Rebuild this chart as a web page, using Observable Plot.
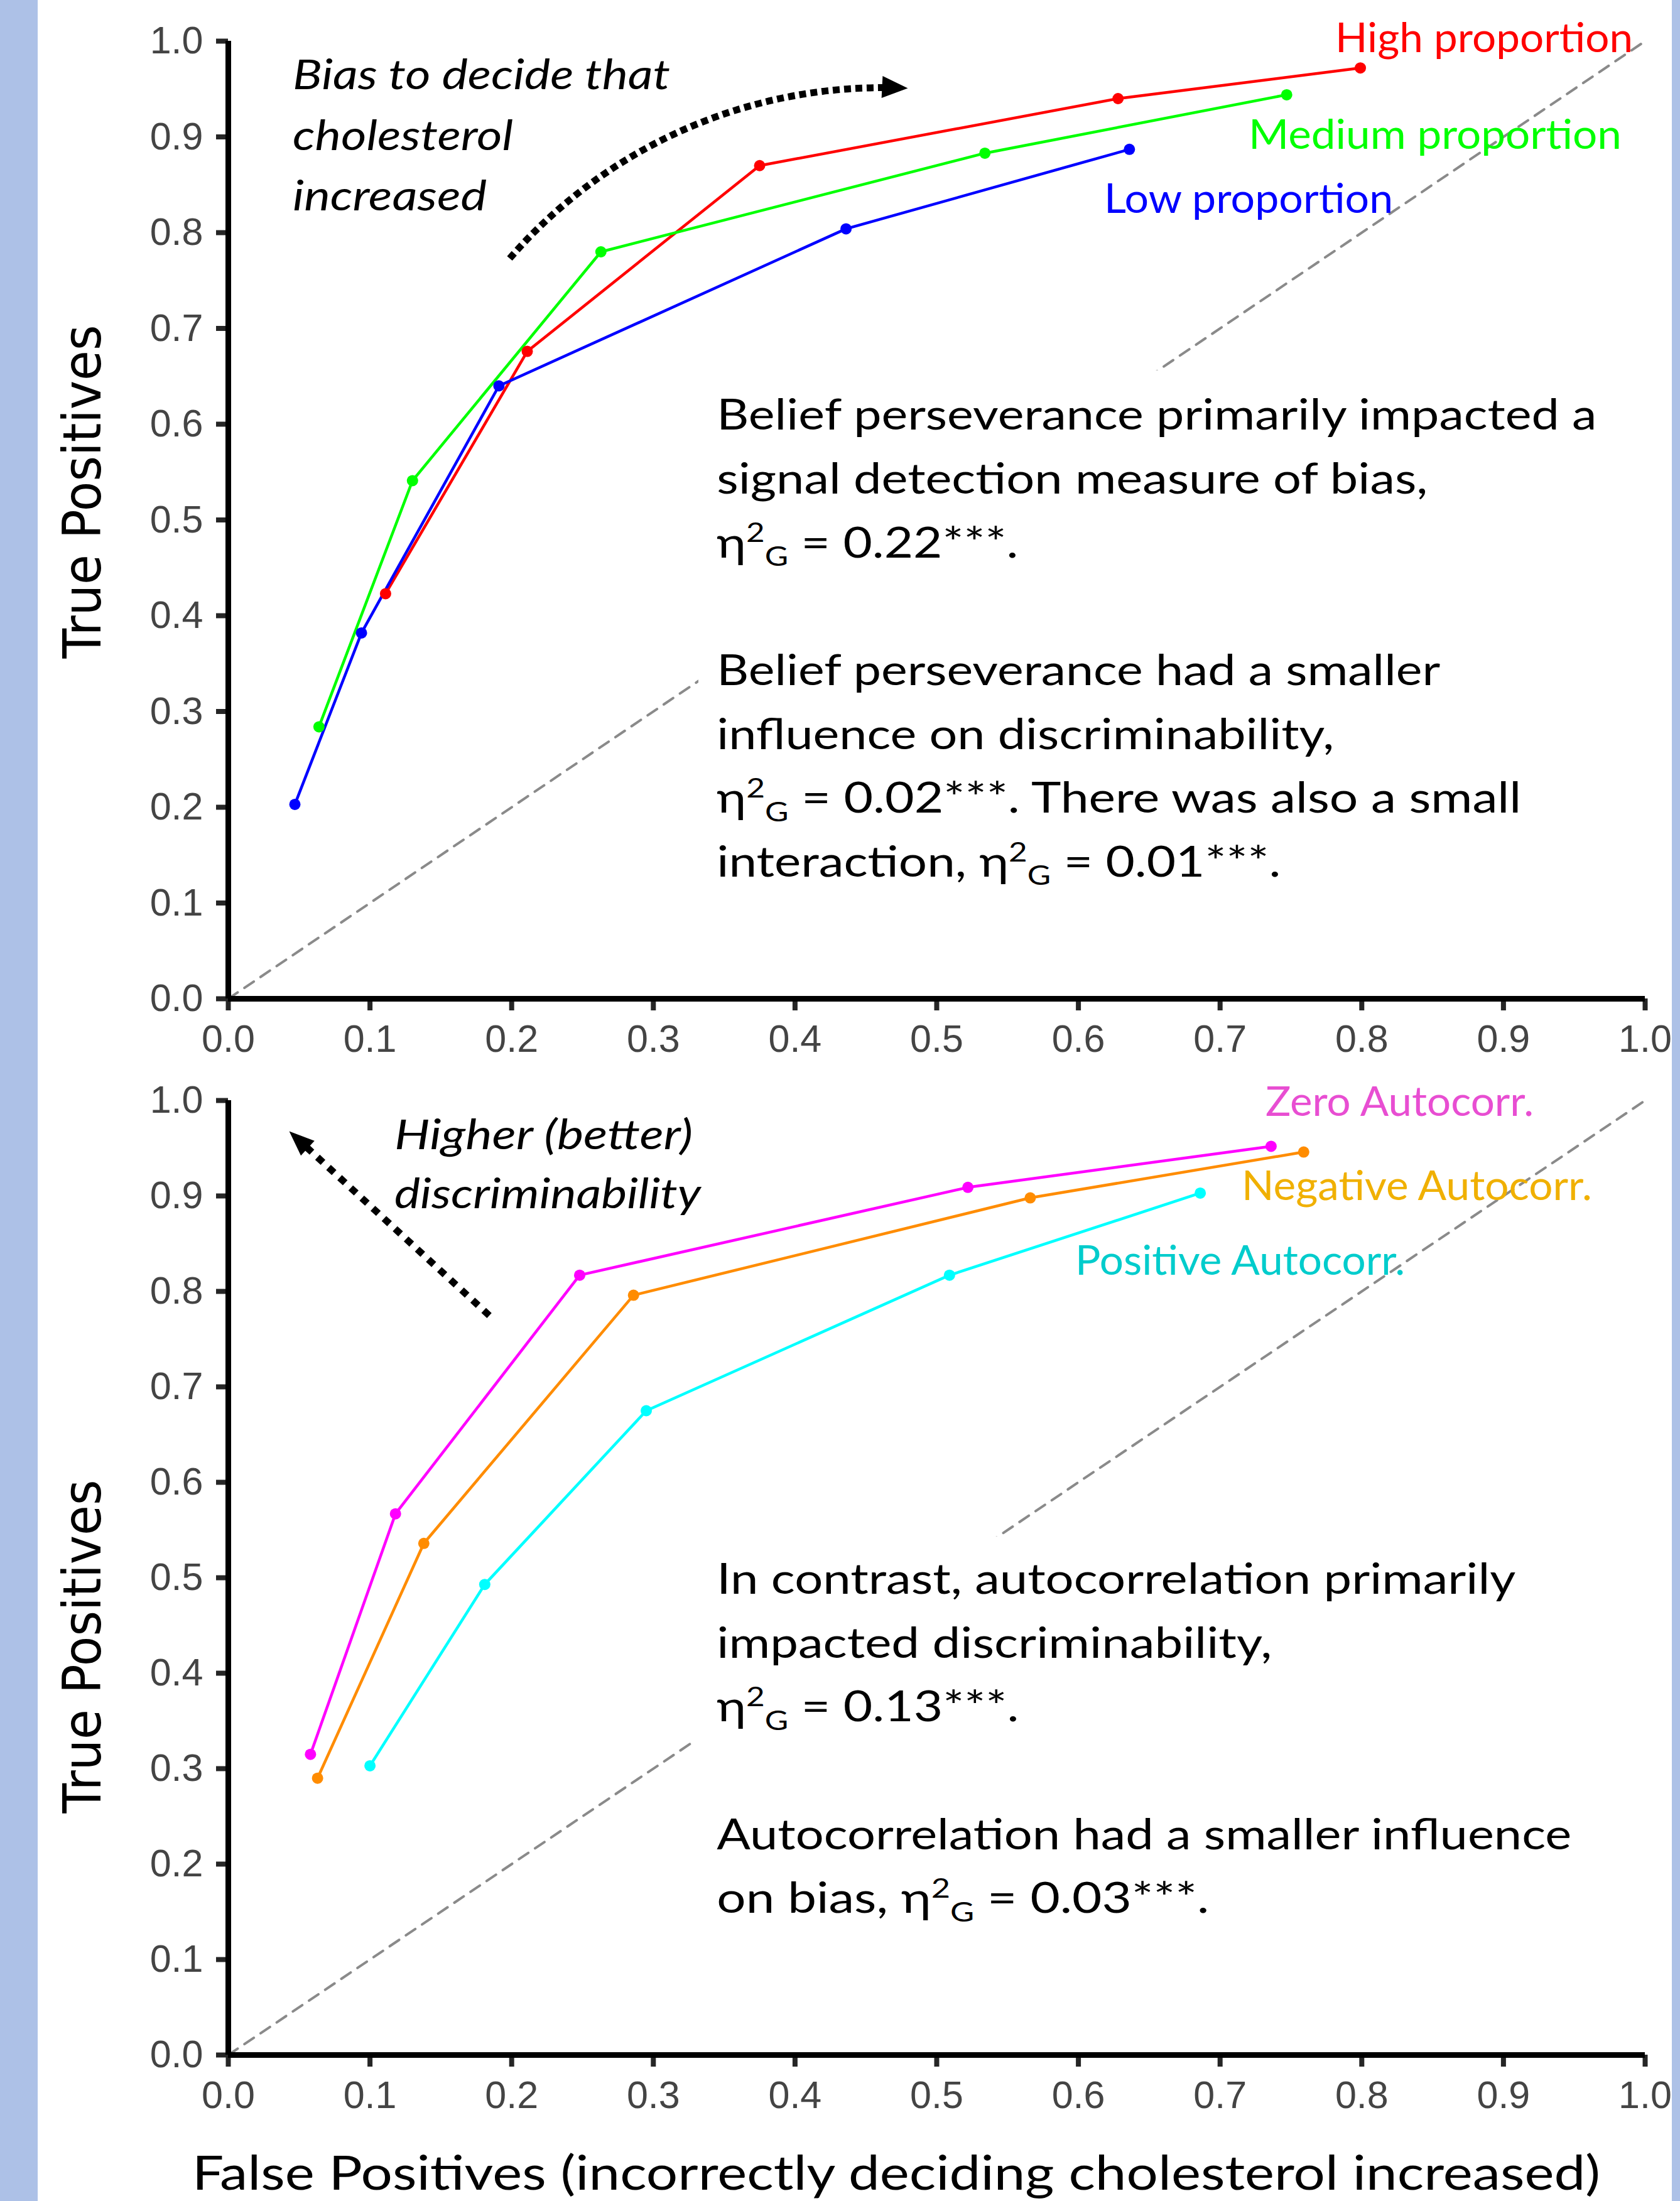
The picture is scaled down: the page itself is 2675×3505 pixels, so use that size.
<!DOCTYPE html>
<html>
<head>
<meta charset="utf-8">
<script src="https://cdn.jsdelivr.net/npm/d3@7"></script>
<script src="https://cdn.jsdelivr.net/npm/@observablehq/plot@0.6"></script>
<style>
  html, body { margin: 0; padding: 0; background: #fff; overflow: hidden; }
  #page { position: relative; width: 2675px; height: 3505px; background: #fff; overflow: hidden; }
  #page svg { position: absolute; left: 0; max-width: none !important; }
  .strip { position: absolute; top: 0; height: 3505px; background: #adc1e7; z-index: 5; }
  svg g[aria-label="x-axis"] text, svg g[aria-label="y-axis"] text,
  svg g[aria-label="x-axis tick label"], svg g[aria-label="y-axis tick label"] {
    font-family: "Liberation Sans", Arial, sans-serif; font-size: 61px; fill: #444;
  }
</style>
</head>
<body>
<div id="page">
  <div class="strip" style="left:0;width:60px"></div>
  <div class="strip" style="left:2662px;width:13px"></div>
</div>
<script>
// ---------------- data ----------------
const proportionSeries = ["High proportion", "Medium proportion", "Low proportion"];
const proportionColors = ["#ff0000", "#00ff00", "#0000ff"];
const highFP   = [0.111, 0.211, 0.375, 0.628, 0.799];
const highTP   = [0.423, 0.676, 0.870, 0.940, 0.972];
const mediumFP = [0.064, 0.130, 0.263, 0.534, 0.747];
const mediumTP = [0.284, 0.541, 0.780, 0.883, 0.944];
const lowFP    = [0.047, 0.094, 0.191, 0.436, 0.636];
const lowTP    = [0.203, 0.382, 0.640, 0.804, 0.887];

const autocorrSeries = ["Zero Autocorr.", "Negative Autocorr.", "Positive Autocorr."];
const autocorrColors = ["#ff00ff", "#ff8c00", "#00ffff"];
const autocorrLabelColors = ["#e84ed2", "#f0b000", "#00cccc"];
const zeroFP     = [0.058, 0.118, 0.248, 0.522, 0.736];
const zeroTP     = [0.315, 0.567, 0.817, 0.909, 0.952];
const negativeFP = [0.063, 0.138, 0.286, 0.566, 0.759];
const negativeTP = [0.290, 0.536, 0.796, 0.898, 0.946];
const positiveFP = [0.100, 0.181, 0.295, 0.509, 0.686];
const positiveTP = [0.303, 0.493, 0.675, 0.817, 0.903];

const tickValues = [0, 0.1, 0.2, 0.3, 0.4, 0.5, 0.6, 0.7, 0.8, 0.9, 1];
const tickLabels = ["0.0", "0.1", "0.2", "0.3", "0.4", "0.5", "0.6", "0.7", "0.8", "0.9", "1.0"];
const diagonal = [0, 1];

const xTitle = "False Positives (incorrectly deciding cholesterol increased)";
const yTitle = "True Positives";
const topCueText = ["Bias to decide that", "cholesterol", "increased"];
const bottomCueText = ["Higher (better)", "discriminability"];
const topNote = [
  "Belief perseverance primarily impacted a",
  "signal detection measure of bias,",
  "η^2_G = 0.22***.",
  "",
  "Belief perseverance had a smaller",
  "influence on discriminability,",
  "η^2_G = 0.02***. There was also a small",
  "interaction, η^2_G = 0.01***."
];
const bottomNote = [
  "In contrast, autocorrelation primarily",
  "impacted discriminability,",
  "η^2_G = 0.13***.",
  "",
  "Autocorrelation had a smaller influence",
  "on bias, η^2_G = 0.03***."
];

// ---------------- layout ----------------
const W = 2675, ML = 363, MR = 56, TICK = 19;
const topCfg = {
  svgTop: 0, height: 1720, marginTop: 65, marginBottom: 130,
  series: proportionSeries, colors: proportionColors, labelColors: proportionColors,
  fp: [highFP, mediumFP, lowFP], tp: [highTP, mediumTP, lowTP],
  box: {x1: 0.332, x2: 1.0, y1: 0.02, y2: 0.656},
  labelPos: [{x: 0.7815, y: 0.9885, w: 474}, {x: 0.7203, y: 0.8875, w: 594}, {x: 0.6184, y: 0.8203, w: 460}],
  arrow: {x1: 0.1986, y1: 0.7731, x2: 0.4796, y2: 0.9508, bend: 26, insetEnd: 36, dash: "11,7", headL: 41, headW: 35},
  cue: {lines: topCueText, x: 0.0457, y: [0.9498, 0.8859, 0.8230], w: [601, 351, 309]},
  note: {lines: topNote, x: 0.345, y: 0.594, step: 101.7, w: [1401, 1132, 480, 0, 1152, 983, 1281, 898]},
  yTitleCenter: 783
};
const bottomCfg = {
  svgTop: 1720, height: 1785, marginTop: 32, marginBottom: 233,
  series: autocorrSeries, colors: autocorrColors, labelColors: autocorrLabelColors,
  fp: [zeroFP, negativeFP, positiveFP], tp: [zeroTP, negativeTP, positiveTP],
  box: {x1: 0.329, x2: 1.0, y1: 0.02, y2: 0.543},
  labelPos: [{x: 0.7323, y: 0.9836, w: 427}, {x: 0.7154, y: 0.8954, w: 558}, {x: 0.598, y: 0.8171, w: 525}],
  arrow: {x1: 0.1842, y1: 0.7747, x2: 0.043, y2: 0.9678, bend: 0, insetEnd: 34, dash: "12,12", headL: 40, headW: 32},
  cue: {lines: bottomCueText, x: 0.1175, y: [0.9484, 0.8868], w: [475, 488]},
  note: {lines: bottomNote, x: 0.345, y: 0.4829, step: 101.7, w: [1272, 884, 481, 0, 1361, 784]},
  yTitleCenter: 2622 - 1720,
  xTitle: {x: 306, y: 3487 - 1720, w: 2242}
};

function arrowHead(L, Wd, ang) {
  const c = Math.cos(ang), s = Math.sin(ang);
  const pts = [[0, 0], [-L, -Wd / 2], [-L, Wd / 2]].map(([x, y]) => [x * c - y * s, x * s + y * c]);
  return {
    draw(ctx) {
      ctx.moveTo(pts[0][0], pts[0][1]);
      ctx.lineTo(pts[1][0], pts[1][1]);
      ctx.lineTo(pts[2][0], pts[2][1]);
      ctx.closePath();
    }
  };
}

function scaleFn(plot, name) {
  const s = plot.scale(name);
  if (s && typeof s.apply === "function") return (v) => s.apply(v);
  return d3.scaleLinear(s.domain, s.range);
}

function drawText(svg, o) {
  const t = d3.select(svg).append("text")
    .attr("x", o.x).attr("y", o.y)
    .attr("font-family", o.font)
    .attr("font-size", o.size)
    .attr("text-anchor", o.anchor || "start")
    .attr("fill", o.fill || "#000");
  if (o.style) t.attr("font-style", o.style);
  if (o.rotate) t.attr("transform", `rotate(${o.rotate},${o.x},${o.y})`);
  const tokens = o.str.split(/(\^.|_.)/).filter((s) => s !== "");
  let shift = 0;
  for (const tok of tokens) {
    let txt = tok, target = 0, fs = o.size;
    if (tok.length === 2 && tok[0] === "^") { txt = tok[1]; target = -0.36 * o.size; fs = 0.64 * o.size; }
    else if (tok.length === 2 && tok[0] === "_") { txt = tok[1]; target = 0.2 * o.size; fs = 0.64 * o.size; }
    t.append("tspan").attr("dy", target - shift).attr("font-size", fs).text(txt);
    shift = target;
  }
  if (o.width) t.attr("textLength", o.width).attr("lengthAdjust", "spacingAndGlyphs");
  return t;
}

function makePanel(cfg) {
  const rows = [];
  cfg.series.forEach((name, i) =>
    cfg.fp[i].forEach((fp, j) => rows.push({series: name, fp, tp: cfg.tp[i][j]})));
  const innerW = W - ML - MR;
  const innerH = cfg.height - cfg.marginTop - cfg.marginBottom;
  const a = cfg.arrow;
  const chord = Math.atan2(-(a.y2 - a.y1) * innerH, (a.x2 - a.x1) * innerW);
  const head = arrowHead(a.headL, a.headW, chord + a.bend * Math.PI / 180);
  const fmt = (d) => tickLabels[Math.round(d * 10)];
  const tickLenX = TICK / innerH, tickLenY = TICK / innerW;

  const plot = Plot.plot({
    width: W, height: cfg.height,
    marginLeft: ML, marginRight: MR, marginTop: cfg.marginTop, marginBottom: cfg.marginBottom,
    style: {background: "transparent", overflow: "visible", fontFamily: "Liberation Sans, Arial, sans-serif", fontSize: "61px", color: "#444"},
    x: {domain: [0, 1], ticks: tickValues, tickFormat: fmt, tickSize: 0, tickPadding: 41, label: null},
    y: {domain: [0, 1], ticks: tickValues, tickFormat: fmt, tickSize: 0, tickPadding: 40, label: null},
    color: {domain: cfg.series, range: cfg.colors},
    marks: [
      Plot.line(diagonal, {x: (d) => d, y: (d) => d, stroke: "#8a8a8a", strokeWidth: 4, strokeDasharray: "18,13"}),
      Plot.rect([cfg.box], {x1: "x1", x2: "x2", y1: "y1", y2: "y2", fill: "white"}),
      Plot.line(rows, {x: "fp", y: "tp", z: "series", stroke: "series", strokeWidth: 4.5}),
      Plot.dot(rows, {x: "fp", y: "tp", fill: "series", r: 9}),
      // axis tick marks
      Plot.ruleX(tickValues, {x: (d) => d, y1: -tickLenX, y2: 0, stroke: "#262626", strokeWidth: 8}),
      Plot.ruleY(tickValues, {y: (d) => d, x1: -tickLenY, x2: 0, stroke: "#262626", strokeWidth: 8}),
      // axis lines
      Plot.ruleX([0], {y1: 0, y2: 1, stroke: "#000", strokeWidth: 9}),
      Plot.ruleY([0], {x1: 0, x2: 1, stroke: "#000", strokeWidth: 9}),
      Plot.arrow([a], {x1: "x1", y1: "y1", x2: "x2", y2: "y2", bend: a.bend, headLength: 0,
        insetEnd: a.insetEnd, stroke: "black", strokeWidth: 11, strokeDasharray: a.dash, strokeLinecap: "butt"}),
      Plot.dot([a], {x: "x2", y: "y2", symbol: head, fill: "black", stroke: "none", r: 10})
    ]
  });

  const X = scaleFn(plot, "x"), Y = scaleFn(plot, "y");
  const sans = "Lato, 'Open Sans', sans-serif";

  cfg.series.forEach((name, i) => {
    const p = cfg.labelPos[i];
    drawText(plot, {x: X(p.x), y: Y(p.y), str: name, font: sans, size: 65, fill: cfg.labelColors[i], width: p.w});
  });
  cfg.cue.lines.forEach((line, i) => {
    drawText(plot, {x: X(cfg.cue.x), y: Y(cfg.cue.y[i]), str: line, font: sans, size: 66, style: "italic", width: cfg.cue.w[i]});
  });
  const nx = X(cfg.note.x), ny = Y(cfg.note.y);
  cfg.note.lines.forEach((line, i) => {
    if (!line) return;
    drawText(plot, {x: nx, y: ny + i * cfg.note.step, str: line, font: sans, size: 67, width: cfg.note.w[i]});
  });
  drawText(plot, {x: 160, y: cfg.yTitleCenter, str: yTitle, font: "'DejaVu Sans', Verdana, sans-serif", size: 84, anchor: "middle", rotate: -90, width: 531});
  if (cfg.xTitle) {
    drawText(plot, {x: cfg.xTitle.x, y: cfg.xTitle.y, str: xTitle, font: sans, size: 76, width: cfg.xTitle.w});
  }
  plot.style.top = cfg.svgTop + "px";
  return plot;
}

const page = document.getElementById("page");
const topPlot = makePanel(topCfg);
const bottomPlot = makePanel(bottomCfg);
page.insertBefore(bottomPlot, page.firstChild);
page.insertBefore(topPlot, page.firstChild);
</script>
</body>
</html>
